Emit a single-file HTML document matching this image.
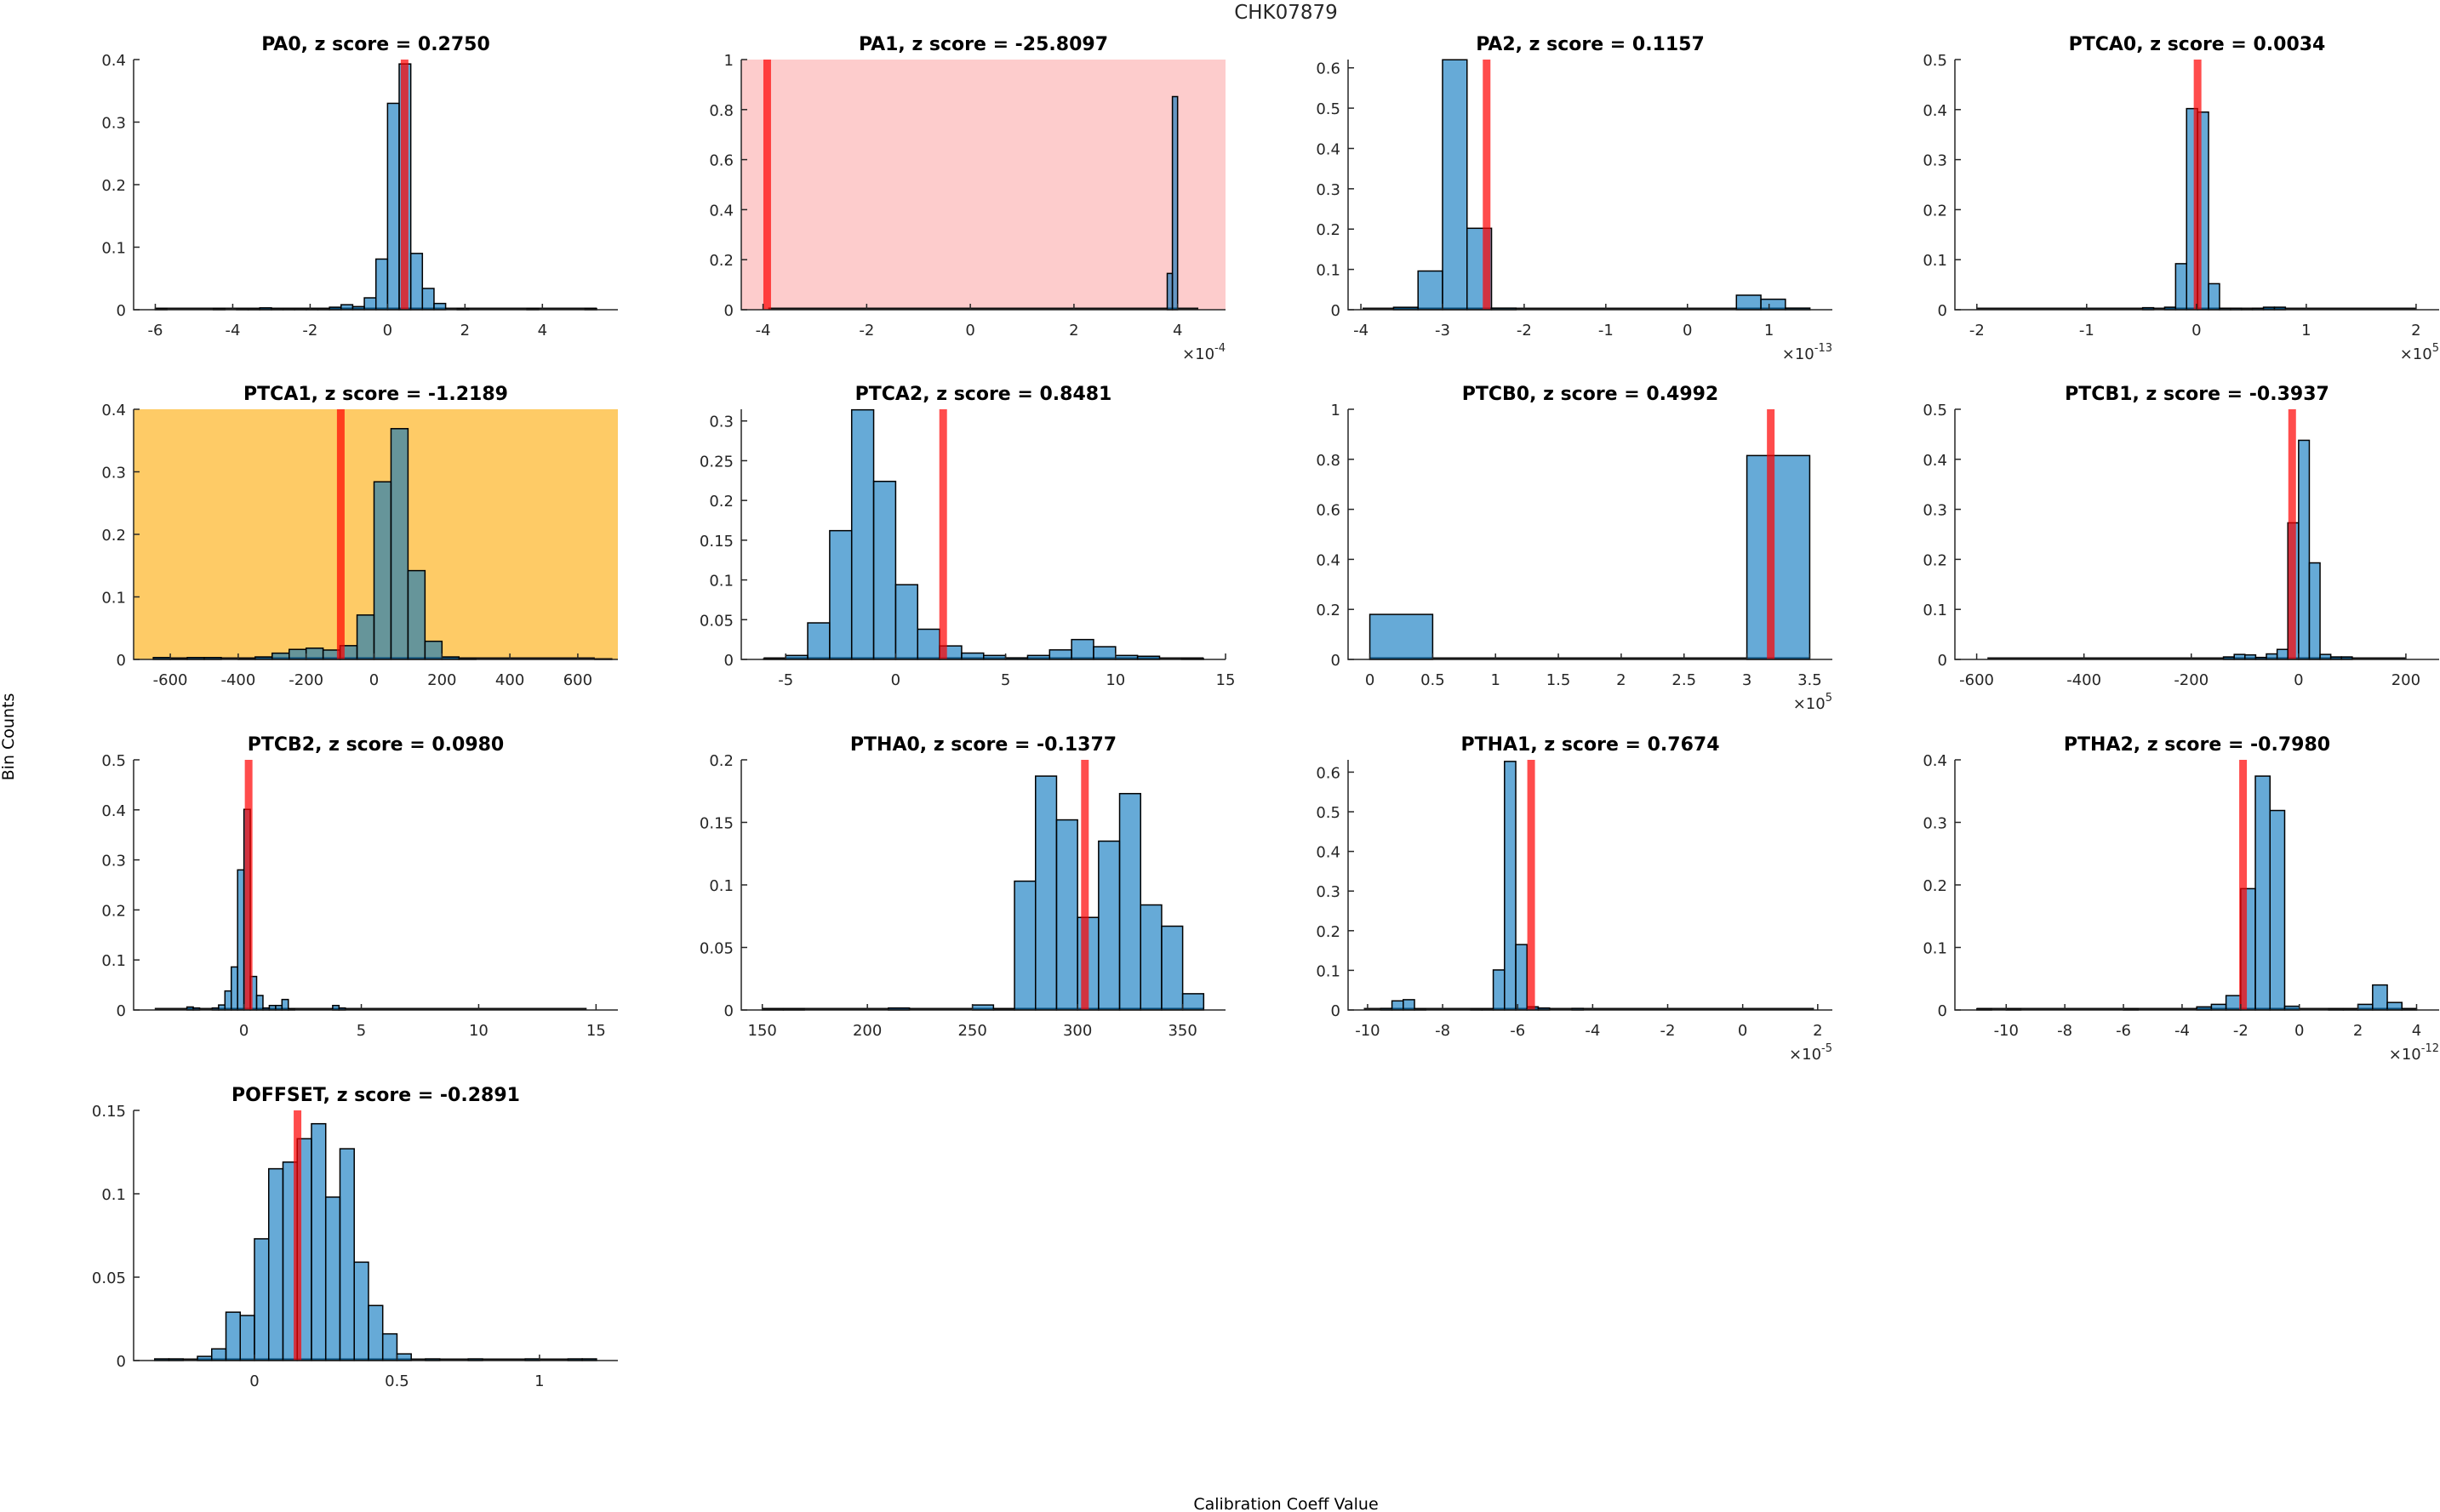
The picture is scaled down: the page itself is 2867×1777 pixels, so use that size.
<!DOCTYPE html>
<html><head><meta charset="utf-8"><title>CHK07879</title>
<style>
html,body{margin:0;padding:0;background:#fff;}
svg{display:block;font-family:"DejaVu Sans","Liberation Sans",sans-serif;}
</style></head>
<body>
<svg id="fig" width="2867" height="1777" viewBox="0 0 2867 1777" xmlns="http://www.w3.org/2000/svg">
<rect x="0" y="0" width="2867" height="1777" fill="#fff"/>
<text x="1511" y="22" font-size="23" fill="#262626" text-anchor="middle">CHK07879</text>
<text x="0" y="0" font-size="19" fill="#000" text-anchor="middle" transform="translate(16,866) rotate(-90)">Bin Counts</text>
<text x="1511" y="1774" font-size="19" fill="#000" text-anchor="middle">Calibration Coeff Value</text>
<g id="panels"></g>
</svg>
<script>
// ---- data arrays ----
const titles = ["PA0, z score = 0.2750","PA1, z score = -25.8097","PA2, z score = 0.1157","PTCA0, z score = 0.0034",
"PTCA1, z score = -1.2189","PTCA2, z score = 0.8481","PTCB0, z score = 0.4992","PTCB1, z score = -0.3937",
"PTCB2, z score = 0.0980","PTHA0, z score = -0.1377","PTHA1, z score = 0.7674","PTHA2, z score = -0.7980",
"POFFSET, z score = -0.2891"];
const binStarts = [-6.0, 3.8, -3.9, -0.49, -650, -6, 0, -140, -2.43, 150, -9.65, -11, -0.35];
const binWidths = [0.3, 0.1, 0.3, 0.1, 50, 1, 0.5, 20, 0.27, 10, 0.3, 0.5, 0.05];
const pa0Counts = [0.002,0,0,0,0,0.002,0,0.001,0.001,0.003,0.001,0.001,0.001,0.001,0.001,0.004,0.008,0.005,0.019,0.081,0.330,0.393,0.090,0.034,0.010,0,0.002,0,0,0,0,0,0.002,0,0,0,0,0.002];
const pa1Counts = [0.145,0.852];
const pa2Counts = [0,0.006,0.096,0.620,0.202,0.004,0,0,0,0,0,0,0,0,0,0.036,0.026,0.004];
const ptca0Counts = [0.004,0,0.005,0.092,0.402,0.395,0.052,0.003,0.003,0.001,0.003,0.005,0.005];
const ptca1Counts = [0.003,0.001,0.003,0.003,0,0.001,0.004,0.010,0.016,0.018,0.015,0.022,0.071,0.284,0.369,0.142,0.029,0.004,0.001,0,0,0,0,0,0,0,0.001];
const ptca2Counts = [0.001,0.005,0.046,0.162,0.314,0.224,0.094,0.038,0.017,0.008,0.005,0.002,0.005,0.012,0.025,0.016,0.005,0.004,0,0.001];
const ptcb0Counts = [0.18,0,0,0,0,0,0.815];
const ptcb1Counts = [0.005,0.010,0.009,0.004,0.011,0.020,0.273,0.438,0.193,0.010,0.005,0.005];
const ptcb2Counts = [0.006,0.004,0,0,0.004,0.010,0.038,0.086,0.280,0.401,0.067,0.029,0.004,0.009,0.009,0.021,0.002,0,0,0,0,0,0,0.009,0.004];
const ptha0Counts = [0.001,0.001,0,0,0,0,0.0016,0,0,0,0.004,0.001,0.103,0.187,0.152,0.074,0.135,0.173,0.084,0.067,0.013];
const ptha1Counts = [0.004,0.023,0.026,0.002,0,0,0,0,0.002,0.002,0.101,0.627,0.165,0.008,0.005,0,0,0.004];
const ptha2Counts = [0.002,0,0.002,0,0,0,0,0,0,0,0.002,0,0,0,0,0.005,0.009,0.023,0.194,0.374,0.319,0.006,0,0,0.002,0.002,0.009,0.040,0.012,0.002];
const poffsetCounts = [0.001,0.001,0,0.0025,0.007,0.029,0.027,0.073,0.115,0.119,0.133,0.142,0.098,0.127,0.059,0.033,0.016,0.004,0,0.001,0,0,0.001,0,0,0,0.001,0,0,0.001,0.001];
const allCounts = [pa0Counts,pa1Counts,pa2Counts,ptca0Counts,ptca1Counts,ptca2Counts,ptcb0Counts,ptcb1Counts,ptcb2Counts,ptha0Counts,ptha1Counts,ptha2Counts,poffsetCounts];
// zero-count baseline spans (data range)
const spanLo = [-6.0,-3.9,-3.98,-2.0,-650,-6,0,-580,-3.8,150,-10.1,-11,-0.35];
const spanHi = [5.4,4.4,1.5,2.0,650,14,3.5,200,14.6,360,1.9,4.0,1.2];
const zValues = [0.44,-3.92,-2.46,0.01,-98,2.16,3.19,-12,0.2,303.5,-5.64,-1.92,0.151];
const xMins = [-6.56,-4.42,-4.157,-2.2,-708,-7.02,-0.173,-640.6,-4.7,140,-10.52,-11.75,-0.424];
const xMaxs = [5.95,4.925,1.775,2.21,718,15,3.68,262,15.93,370.4,2.39,4.77,1.275];
const yMaxs = [0.4,1,0.6205,0.5,0.4,0.3147,1,0.5,0.5,0.2,0.631,0.4,0.15];
const xTicks = [[-6,-4,-2,0,2,4],[-4,-2,0,2,4],[-4,-3,-2,-1,0,1],[-2,-1,0,1,2],
[-600,-400,-200,0,200,400,600],[-5,0,5,10,15],[0,0.5,1,1.5,2,2.5,3,3.5],[-600,-400,-200,0,200],
[0,5,10,15],[150,200,250,300,350],[-10,-8,-6,-4,-2,0,2],[-10,-8,-6,-4,-2,0,2,4],[0,0.5,1]];
const yTicks = [[0,0.1,0.2,0.3,0.4],[0,0.2,0.4,0.6,0.8,1],[0,0.1,0.2,0.3,0.4,0.5,0.6],[0,0.1,0.2,0.3,0.4,0.5],
[0,0.1,0.2,0.3,0.4],[0,0.05,0.1,0.15,0.2,0.25,0.3],[0,0.2,0.4,0.6,0.8,1],[0,0.1,0.2,0.3,0.4,0.5],
[0,0.1,0.2,0.3,0.4,0.5],[0,0.05,0.1,0.15,0.2],[0,0.1,0.2,0.3,0.4,0.5,0.6],[0,0.1,0.2,0.3,0.4],[0,0.05,0.1,0.15]];
const exponents = ["","-4","-13","5","","","5","","","","-5","-12",""];
const bgColors = ["","#fdcccc","","","#fecb66","","","","","","","",""];

// ---- layout ----
const colX = [157,871,1584,2297];
const rowY = [70,481,893,1305];
const W = 569, H = 294;
const NS = "http://www.w3.org/2000/svg";
const root = document.getElementById('panels');
function mk(tag, attrs, parent){
  const e = document.createElementNS(NS, tag);
  for (const k in attrs) e.setAttribute(k, attrs[k]);
  parent.appendChild(e);
  return e;
}
function fmt(v){ return String(v); }
titles.forEach((t, p) => {
  const x0 = colX[p % 4], y0 = rowY[Math.floor(p / 4)];
  const sx = v => x0 + (v - xMins[p]) / (xMaxs[p] - xMins[p]) * W;
  const sy = v => y0 + H - v / yMaxs[p] * H;
  const g = mk('g', {}, root);
  
  
  if (bgColors[p]) {
    const bg = mk('rect', {x:x0, y:y0, width:W, height:H, fill:bgColors[p]}, g);
    
    
  }
  const bl = mk('line', {x1:sx(spanLo[p]), x2:sx(spanHi[p]), y1:y0+H-1, y2:y0+H-1, stroke:'#111', 'stroke-width':3}, g);
  
  
  allCounts[p].forEach((c, i) => {
    if (c <= 0) return;
    const a = binStarts[p] + i * binWidths[p];
    const xl = sx(a), xr = sx(a + binWidths[p]);
    const r = mk('rect', {x:xl, y:sy(c), width:Math.max(1, xr - xl), height:sy(0) - sy(c),
      fill:'rgba(0,114,189,0.6)', stroke:'#000', 'stroke-width':1.5}, g);
    
    
  });
  const zl = mk('rect', {x:sx(zValues[p]) - 4.5, y:y0, width:9, height:H, fill:'rgba(255,0,0,0.7)'}, g);
  
  
  const ax = mk('path', {d:`M${x0} ${y0}V${y0+H}H${x0+W}`, fill:'none', stroke:'#262626', 'stroke-width':1.5}, g);
  
  
  xTicks[p].forEach(v => {
    const x = sx(v);
    mk('line', {x1:x, x2:x, y1:y0+H, y2:y0+H-7, stroke:'#262626', 'stroke-width':1.5}, g);
    const tl = mk('text', {x:x, y:y0+H+30, 'font-size':18, fill:'#262626', 'text-anchor':'middle'}, g);
    tl.textContent = fmt(v);
    
    
  });
  yTicks[p].forEach(v => {
    const y = sy(v);
    mk('line', {x1:x0, x2:x0+7, y1:y, y2:y, stroke:'#262626', 'stroke-width':1.5}, g);
    const tl = mk('text', {x:x0-9, y:y+7, 'font-size':18, fill:'#262626', 'text-anchor':'end'}, g);
    tl.textContent = fmt(v);
    
    
  });
  if (exponents[p]) {
    const ex = mk('text', {x:x0+W, y:y0+H+58, 'font-size':18, fill:'#262626', 'text-anchor':'end'}, g);
    ex.innerHTML = '×10<tspan dy="-9" font-size="13">' + exponents[p] + '</tspan>';
    
    
  }
  const tt = mk('text', {x:x0+W/2, y:y0-11, 'font-size':22, 'font-weight':'bold', fill:'#000', 'text-anchor':'middle'}, g);
  tt.textContent = t;
  
  
});
</script>
</body></html>
